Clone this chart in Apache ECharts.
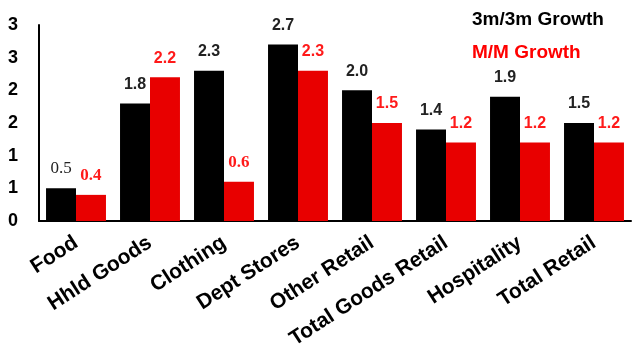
<!DOCTYPE html>
<html>
<head>
<meta charset="utf-8">
<script src="https://cdn.jsdelivr.net/npm/echarts@6/dist/echarts.min.js"></script>
<style>
  html, body { margin: 0; padding: 0; background: #fff; }
  #chart { width: 632px; height: 354px; }
</style>
</head>
<body>
<div id="chart"></div>
<script>
// 数据
var categories = ['Food', 'Hhld Goods', 'Clothing', 'Dept Stores', 'Other Retail', 'Total Goods Retail', 'Hospitality', 'Total Retail'];
var growth3m = [0.5, 1.8, 2.3, 2.7, 2.0, 1.4, 1.9, 1.5];
var growthMM = [0.4, 2.2, 0.6, 2.3, 1.5, 1.2, 1.2, 1.2];
var yTickLabels = ['0', '1', '1', '2', '2', '3', '3'];

var sans = 'Arial, "Liberation Sans"';

function toData(arr, weight) {
    // 小于1的标签在原图里是衬线字体
    return arr.map(function(v) {
        var d = { value: v };
        if (v < 1) {
            d.label = { fontFamily: 'Liberation Serif', fontSize: 17, fontWeight: weight };
        }
        return d;
    });
}

var myChart = echarts.init(document.getElementById('chart'));
var option = {
    animation: false,
    grid: { left: 39, right: 1, top: 25, bottom: 133 },
    graphic: [
        { type: 'text', left: 472, top: 10, style: { text: '3m/3m Growth', fill: '#000', font: 'bold 19px ' + sans } },
        { type: 'text', left: 472, top: 43, style: { text: 'M/M Growth', fill: '#ff0000', font: 'bold 19px ' + sans } }
    ],
    xAxis: {
        type: 'category',
        data: categories,
        axisLine: { lineStyle: { color: '#000', width: 2 } },
        axisTick: { show: false },
        axisLabel: {
            interval: 0,
            rotate: 33,
            margin: 20,
            color: '#000',
            fontFamily: sans,
            fontWeight: 'bold',
            fontSize: 21
        }
    },
    yAxis: {
        type: 'value',
        min: 0,
        max: 3,
        interval: 0.5,
        splitLine: { show: false },
        axisLine: { show: true, lineStyle: { color: '#000', width: 2 } },
        axisTick: { show: false },
        axisLabel: {
            margin: 21,
            color: '#000',
            fontFamily: sans,
            fontWeight: 'bold',
            fontSize: 18,
            formatter: function(v, i) { return yTickLabels[i]; }
        }
    },
    series: [{
        name: '3m/3m Growth',
        type: 'bar',
        data: toData(growth3m, 'normal'),
        barGap: '0%',
        barCategoryGap: '19%',
        itemStyle: { color: '#000' },
        label: {
            show: true,
            position: 'top',
            distance: 11,
            color: '#222',
            fontFamily: sans,
            fontWeight: 'bold',
            fontSize: 16,
            formatter: function(p) { return p.value.toFixed(1); }
        }
    }, {
        name: 'M/M Growth',
        type: 'bar',
        data: toData(growthMM, 'bold'),
        itemStyle: { color: '#e80000' },
        label: {
            show: true,
            position: 'top',
            distance: 11,
            color: '#ff1a1a',
            fontFamily: sans,
            fontWeight: 'bold',
            fontSize: 16,
            formatter: function(p) { return p.value.toFixed(1); }
        }
    }]
};
myChart.setOption(option);
</script>
</body>
</html>
